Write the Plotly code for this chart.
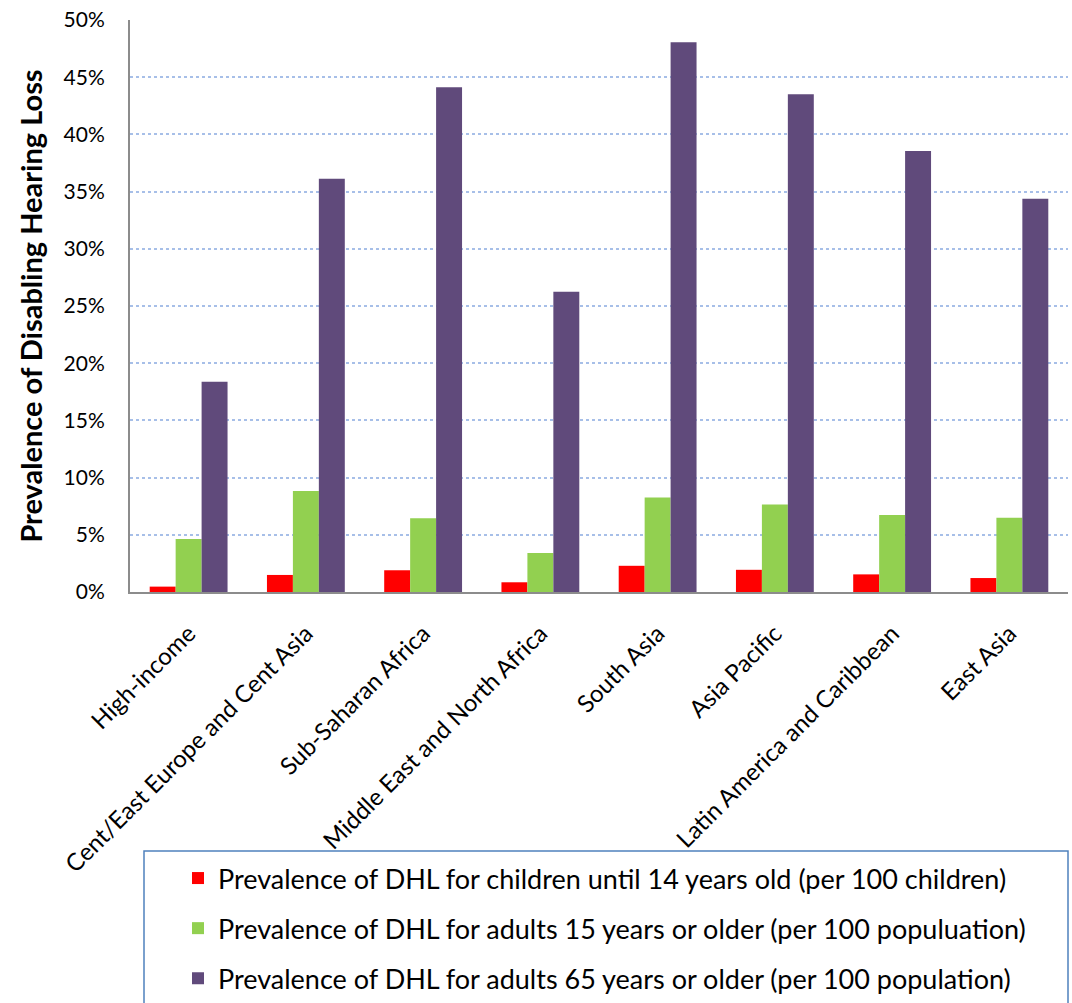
import plotly.graph_objects as go

categories = ["High-income", "Cent/East Europe and Cent Asia", "Sub-Saharan Africa",
              "Middle East and North Africa", "South Asia", "Asia Pacific",
              "Latin America and Caribbean", "East Asia"]
children = [0.0047, 0.0149, 0.019, 0.0085, 0.0229, 0.0194, 0.0154, 0.0122]
adults15 = [0.0463, 0.0883, 0.0644, 0.0342, 0.0825, 0.0765, 0.0672, 0.0648]
adults65 = [0.1838, 0.3613, 0.4412, 0.2625, 0.4805, 0.4350, 0.3855, 0.3438]

series_names = [
    "Prevalence of DHL for children until 14 years old (per 100 children)",
    "Prevalence of DHL for adults 15 years or older (per 100 populuation)",
    "Prevalence of DHL for adults 65 years or older (per 100 population)",
]
colors = ["#FF0000", "#92D050", "#604A7B"]

FONT = "Lato"

fig = go.Figure()
for i, (name, vals, col) in enumerate(zip(series_names, [children, adults15, adults65], colors)):
    fig.add_trace(go.Bar(
        x=categories, y=vals, name=name, marker_color=col,
        marker_line_width=0, legendgroup=f"g{i}",
    ))

fig.update_layout(
    width=1072, height=1003,
    margin=dict(l=130, r=4, t=20, b=411, autoexpand=False),
    plot_bgcolor="white", paper_bgcolor="white",
    barmode="group", bargap=0.336, bargroupgap=0,
    font=dict(family=FONT, color="black"),
    showlegend=True,
    legend=dict(
        x=(178 - 130) / 938, xanchor="left",
        y=(592 - 854) / 572, yanchor="top",
        font=dict(size=27, family=FONT),
        traceorder="grouped", tracegroupgap=12,
        bgcolor="rgba(0,0,0,0)", borderwidth=0,
    ),
    shapes=[dict(
        type="rect", xref="paper", yref="paper",
        x0=(144 - 130) / 938, x1=(1068 - 130) / 938,
        y0=(592 - 851) / 572, y1=-0.8,
        line=dict(color="#4F81BD", width=1.5), fillcolor="rgba(0,0,0,0)",
        layer="below",
    )],
)

fig.update_yaxes(
    range=[0, 0.5], dtick=0.05, tickformat=".0%",
    showgrid=True, gridcolor="#A7BFE8", griddash="dot", gridwidth=1.5,
    showline=True, linecolor="#8C8C8C", linewidth=2,
    ticks="", tickfont=dict(size=21, family=FONT), ticklabelstandoff=19,
    title=dict(text="<b>Prevalence of Disabling Hearing Loss</b>",
               font=dict(size=29, family=FONT), standoff=12),
    zeroline=False,
)
fig.update_xaxes(
    showline=True, linecolor="#8C8C8C", linewidth=2,
    ticks="", tickangle=-45, tickfont=dict(size=24, family=FONT),
    ticklabelstandoff=16,
    showgrid=False,
)

fig.write_html("out.html")
